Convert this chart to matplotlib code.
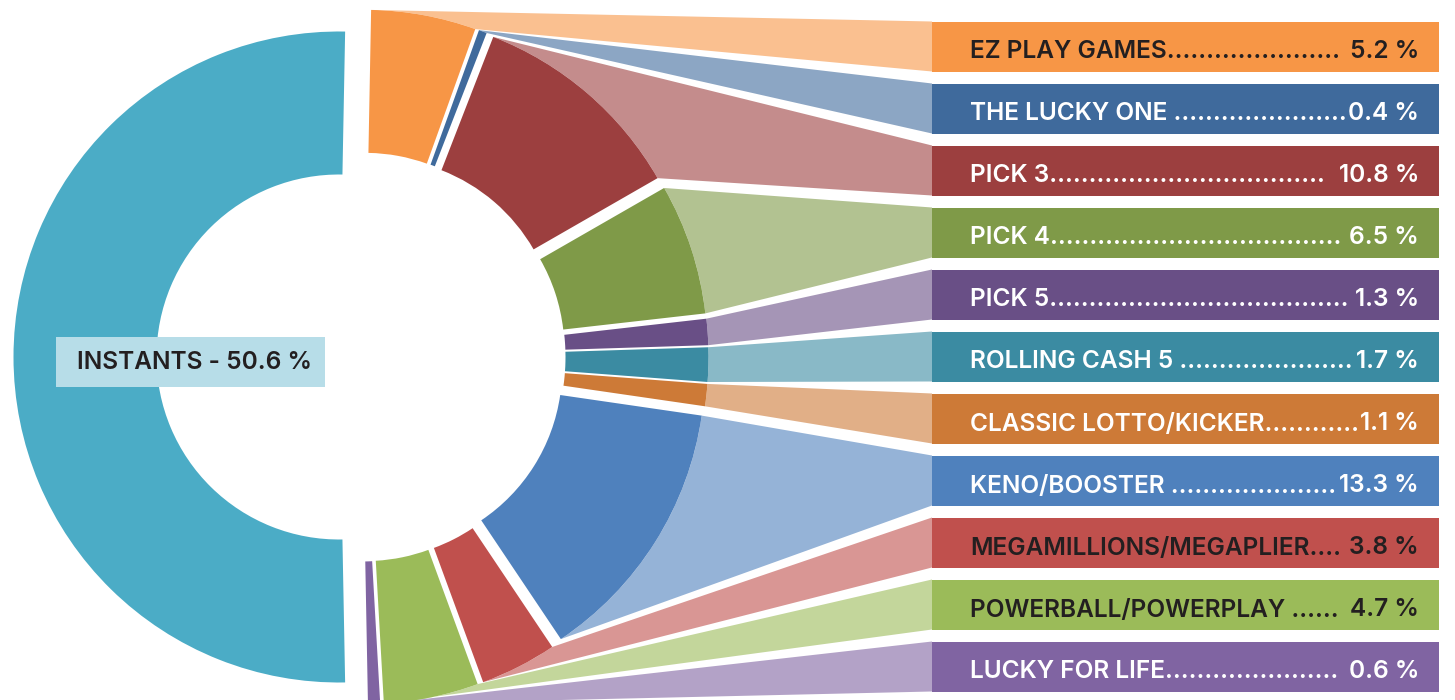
import matplotlib
matplotlib.use("Agg")
import matplotlib.pyplot as plt
from matplotlib.patches import Polygon, Rectangle
from matplotlib import colors as mcolors
import numpy as np

# ---------------- data ----------------
categories = ["EZ PLAY GAMES", "THE LUCKY ONE", "PICK 3", "PICK 4", "PICK 5",
              "ROLLING CASH 5", "CLASSIC LOTTO/KICKER", "KENO/BOOSTER",
              "MEGAMILLIONS/MEGAPLIER", "POWERBALL/POWERPLAY", "LUCKY FOR LIFE"]
shares = [5.2, 0.4, 10.8, 6.5, 1.3, 1.7, 1.1, 13.3, 3.8, 4.7, 0.6]
instants_name = "INSTANTS"
instants_share = 50.6

colors = ["#F79646", "#3F6A9C", "#9C3F3F", "#7F9A48", "#694F86", "#3B8BA2",
          "#CD7A37", "#4F81BD", "#C0504D", "#9BBB59", "#8064A2"]
instants_color = "#4BACC6"
instants_label_bg = "#B7DDE8"
dark = "#231F20"
text_colors = [dark, "white", "white", "white", "white", "white", "white",
               "white", dark, dark, "white"]
# leader style (space after name / space before value)
space_after_name = [False, True, False, False, False, True, False, True, False, True, False]
space_before_value = [True, False, True, True, False, False, False, False, True, True, True]

# ---------------- layout ----------------
W, H = 1455, 700
CX, CY = 361, H - 357
R_OUT, R_IN = 325.5, 182.5
EXPLODE = 22
BOX_X, BOX_W, BOX_H, BOX_TOP0, BOX_PITCH = 932, 507, 50, 21.5, 62
TEXT_X, VALUE_X = 970, 1419
FONT = ["Inter", "DejaVu Sans"]
WEIGHT = "semibold"
FS = 17.6

fig = plt.figure(figsize=(W / 100, H / 100), dpi=100)
ax = fig.add_axes([0, 0, 1, 1])

all_shares = shares + [instants_share]
all_colors = colors + [instants_color]
start = 90 - (instants_share * 3.6 - 180) / 2
wedges, _ = ax.pie(all_shares, colors=all_colors, startangle=start,
                   counterclock=False, radius=R_OUT, center=(CX, CY),
                   explode=[EXPLODE] * len(all_shares),
                   wedgeprops=dict(width=R_OUT - R_IN, linewidth=0), frame=False)
for w in wedges:
    w.set_zorder(3)

ax.set_xlim(0, W)
ax.set_ylim(0, H)
ax.set_aspect("auto")
ax.axis("off")

n = len(categories)
box_tops = [H - (BOX_TOP0 + BOX_PITCH * i) for i in range(n)]
box_centers = [t - BOX_H / 2 for t in box_tops]

def lighten(c, a=0.6):
    rgb = np.array(mcolors.to_rgb(c))
    return tuple(1 - a * (1 - rgb))

# connectors
for i, w in enumerate(wedges[:n]):
    wx, wy = w.center
    th = np.radians(np.linspace(w.theta2, w.theta1, 60))
    arc = np.column_stack([wx + w.r * np.cos(th), wy + w.r * np.sin(th)])
    pts = np.vstack([[BOX_X, box_tops[i]], arc, [BOX_X, box_tops[i] - BOX_H]])
    ax.add_patch(Polygon(pts, closed=True, facecolor=lighten(colors[i]),
                         edgecolor="none", zorder=1))

# label boxes
ax.barh(box_centers, BOX_W, left=BOX_X, height=BOX_H, color=colors,
        linewidth=0, zorder=2)

fig.canvas.draw()
renderer = fig.canvas.get_renderer()

for i, name in enumerate(categories):
    base_y = box_tops[i] - 37
    val = f"{shares[i]:.1f} %"
    vt = ax.text(VALUE_X, base_y, val, ha="right", va="baseline", fontsize=FS,
                 family=FONT, weight=WEIGHT, color=text_colors[i], zorder=5)
    vleft = vt.get_window_extent(renderer).x0
    prefix = name + (" " if space_after_name[i] else "")
    lt = ax.text(TEXT_X, base_y, prefix, ha="left", va="baseline", fontsize=FS,
                 family=FONT, weight=WEIGHT, color=text_colors[i], zorder=5)
    limit = vleft - (6 if space_before_value[i] else 1)
    k = 0
    while True:
        lt.set_text(prefix + "." * (k + 1))
        if lt.get_window_extent(renderer).x1 > limit:
            lt.set_text(prefix + "." * k)
            break
        k += 1

# instants label
ax.add_patch(Rectangle((56, H - 387), 269, 50, facecolor=instants_label_bg,
                       edgecolor="none", zorder=4))
ax.text(77, H - 369, f"{instants_name} - {instants_share:.1f} %", ha="left",
        va="baseline", fontsize=17.6, family=FONT, weight=WEIGHT,
        color=dark, zorder=5)

fig.savefig("out.png", dpi=100)
